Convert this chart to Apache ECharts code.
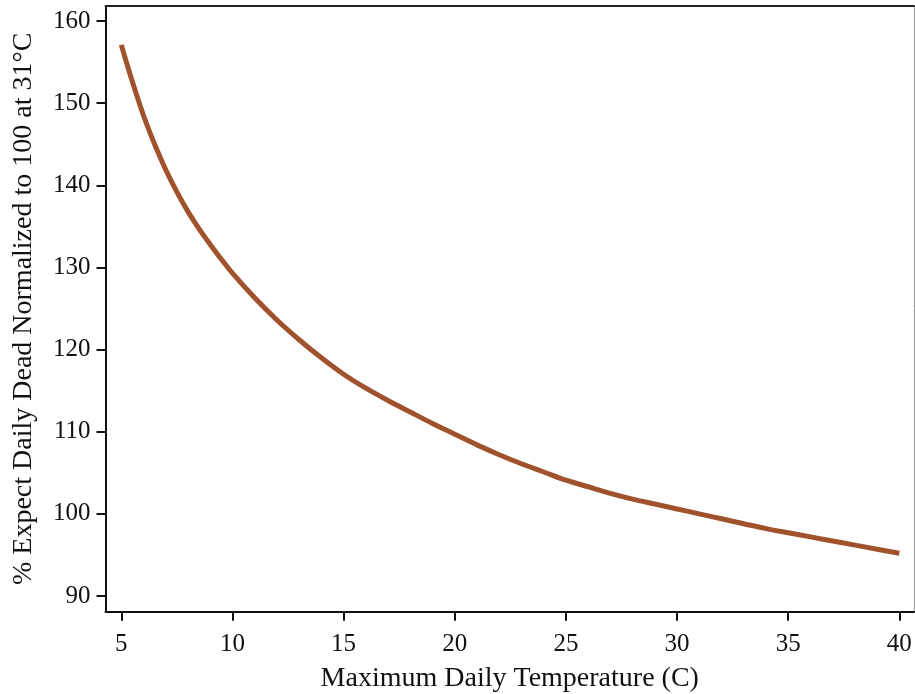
<!DOCTYPE html>
<html>
<head>
<meta charset="utf-8">
<script src="https://cdn.jsdelivr.net/npm/echarts@6/dist/echarts.min.js"></script>
<style>
html,body{margin:0;padding:0;background:#fff;}
#chart{width:915px;height:694px;}
</style>
</head>
<body>
<div id="chart"></div>
<script>
// Maximum daily temperature (C)
const temperature = [5, 5.5, 6, 6.5, 7, 7.5, 8, 8.5, 9, 9.5, 10, 11, 12, 13, 14, 15, 16, 17, 18, 19, 20, 21, 22, 23, 24, 25, 26, 27, 28, 29, 30, 31, 32, 33, 34, 35, 36, 37, 38, 39, 40];
// % expected daily dead, normalized to 100 at 31°C
const expectedDead = [157.1, 152.6, 148.5, 145.0, 141.9, 139.2, 136.8, 134.7, 132.8, 131.0, 129.3, 126.3, 123.6, 121.2, 119.0, 117.0, 115.3, 113.8, 112.4, 111.0, 109.7, 108.4, 107.2, 106.1, 105.1, 104.1, 103.3, 102.5, 101.8, 101.2, 100.6, 100.0, 99.4, 98.8, 98.2, 97.7, 97.2, 96.7, 96.2, 95.7, 95.2];
const xTicks = [5, 10, 15, 20, 25, 30, 35, 40];
const yTicks = [90, 100, 110, 120, 130, 140, 150, 160];

const points = temperature.map((t, i) => [t, expectedDead[i]]);
const serif = '"Liberation Serif", "Times New Roman", serif';

const chart = echarts.init(document.getElementById('chart'), null, {renderer: 'canvas'});
chart.setOption({
  animation: false,
  backgroundColor: '#ffffff',
  grid: {left: 105.5, right: 1, top: 6, bottom: 82.3, containLabel: false, outerBoundsMode: 'none'},
  xAxis: [{
    type: 'value',
    position: 'bottom',
    min: 4.29,
    max: 40.66,
    name: 'Maximum Daily Temperature (C)',
    nameLocation: 'middle',
    nameGap: 53,
    nameTextStyle: {fontFamily: serif, fontSize: 28, color: '#111'},
    axisLine: {show: true, lineStyle: {color: '#111', width: 2}},
    axisTick: {show: true, inside: false, length: 9, lineStyle: {color: '#111', width: 2}, customValues: xTicks},
    axisLabel: {fontFamily: serif, fontSize: 25, color: '#111', margin: 20, customValues: xTicks},
    splitLine: {show: false}
  }, {
    type: 'value',
    position: 'top',
    min: 4.29,
    max: 40.66,
    axisLine: {show: true, lineStyle: {color: '#222', width: 2}},
    axisTick: {show: false},
    axisLabel: {show: false},
    splitLine: {show: false}
  }],
  yAxis: [{
    type: 'value',
    position: 'left',
    min: 88.09,
    max: 161.83,
    name: '% Expect Daily Dead Normalized to 100 at 31°C',
    nameLocation: 'middle',
    nameGap: 68,
    nameTextStyle: {fontFamily: serif, fontSize: 28, color: '#111'},
    axisLine: {show: true, lineStyle: {color: '#111', width: 2}},
    axisTick: {show: true, inside: false, length: 9, lineStyle: {color: '#111', width: 2}, customValues: yTicks},
    axisLabel: {fontFamily: serif, fontSize: 25, color: '#111', margin: 15, customValues: yTicks},
    splitLine: {show: false}
  }, {
    type: 'value',
    position: 'right',
    min: 88.09,
    max: 161.83,
    axisLine: {show: true, lineStyle: {color: '#999', width: 1}},
    axisTick: {show: false},
    axisLabel: {show: false},
    splitLine: {show: false}
  }],
  series: [{
    type: 'line',
    xAxisIndex: 0,
    yAxisIndex: 0,
    data: points,
    smooth: 0.3,
    showSymbol: false,
    lineStyle: {color: '#A0522D', width: 5, cap: 'butt'}
  }]
});
</script>
</body>
</html>
